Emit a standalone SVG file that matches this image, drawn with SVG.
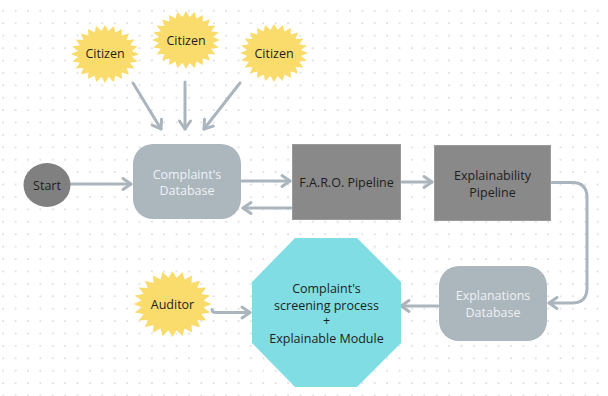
<svg xmlns="http://www.w3.org/2000/svg" width="608" height="396" viewBox="0 0 608 396">
<defs>
<pattern id="dots" x="14.6" y="9.8" width="12.385" height="12.41" patternUnits="userSpaceOnUse">
<circle cx="1" cy="1" r="0.8" fill="#c9cad3"/>
</pattern>
<path id="star" d="M100,0 L79.3,10.4 L96.6,25.9 L73.9,30.6 L86.6,50 L63.5,48.7 L70.7,70.7 L48.7,63.5 L50,86.6 L30.6,73.9 L25.9,96.6 L10.4,79.3 L0,100 L-10.4,79.3 L-25.9,96.6 L-30.6,73.9 L-50,86.6 L-48.7,63.5 L-70.7,70.7 L-63.5,48.7 L-86.6,50 L-73.9,30.6 L-96.6,25.9 L-79.3,10.4 L-100,0 L-79.3,-10.4 L-96.6,-25.9 L-73.9,-30.6 L-86.6,-50 L-63.5,-48.7 L-70.7,-70.7 L-48.7,-63.5 L-50,-86.6 L-30.6,-73.9 L-25.9,-96.6 L-10.4,-79.3 L0,-100 L10.4,-79.3 L25.9,-96.6 L30.6,-73.9 L50,-86.6 L48.7,-63.5 L70.7,-70.7 L63.5,-48.7 L86.6,-50 L73.9,-30.6 L96.6,-25.9 L79.3,-10.4 Z"/>
<marker id="arr" markerUnits="userSpaceOnUse" markerWidth="16" markerHeight="16" viewBox="-12 -8 16 16" refX="0" refY="0" orient="auto" overflow="visible">
<path d="M-8,-5.5 L0,0 L-8,5.5" fill="none" stroke="#abb5bd" stroke-width="3" stroke-linecap="round" stroke-linejoin="round"/>
</marker>
<style>
.t{font-family:"Open Sans","Liberation Sans",sans-serif;font-size:12.5px;text-anchor:middle}
.dk{fill:#1e1e1e}
.lt{fill:#eef2f4}
.star{fill:#f9dc6c}
.conn{fill:none;stroke:#abb5bd;stroke-width:3;stroke-linecap:round;stroke-linejoin:round;marker-end:url(#arr)}
.db{fill:#abb6bd}
.pipe{fill:#898989;stroke:#9a9a9a;stroke-width:1}
</style>
</defs>
<rect width="608" height="396" fill="#ffffff"/>
<rect width="608" height="396" fill="url(#dots)"/>

<g id="connectors">
<path class="conn" d="M133,83 L161,129"/>
<path class="conn" d="M185,82 L185,129"/>
<path class="conn" d="M240,83 L204,129"/>
<path class="conn" d="M71,184 L131,184"/>
<path class="conn" d="M242,181 L290,181"/>
<path class="conn" d="M291,208 L243,208"/>
<path class="conn" d="M402,182 L432,182"/>
<path class="conn" d="M552,182.5 H572 Q587,182.5 587,197.5 V288 Q587,303 572,303 H549"/>
<path class="conn" d="M438,306 L401,306"/>
<path class="conn" d="M212,309.5 Q212,312.5 216,312.5 H250"/>
</g>

<g id="citizen1">
<use href="#star" class="star" transform="translate(105,54) scale(0.34,0.29)"/>
<text class="t dk" x="105" y="57.5">Citizen</text>
</g>
<g id="citizen2">
<use href="#star" class="star" transform="translate(186,40) scale(0.34,0.29)"/>
<text class="t dk" x="186" y="44.5">Citizen</text>
</g>
<g id="citizen3">
<use href="#star" class="star" transform="translate(274,53) scale(0.34,0.29)"/>
<text class="t dk" x="274" y="57.5">Citizen</text>
</g>

<g id="start">
<ellipse cx="47" cy="185" rx="23.5" ry="22" fill="#808080"/>
<text class="t dk" x="47" y="189.5">Start</text>
</g>

<g id="complaints-db">
<rect class="db" x="133" y="144" width="108" height="75" rx="20"/>
<text class="t lt" x="187" y="178.8">Complaint's</text>
<text class="t lt" x="187" y="195">Database</text>
</g>

<g id="faro">
<rect class="pipe" x="292.5" y="144.5" width="108" height="75"/>
<text class="t dk" x="346.5" y="186.8">F.A.R.O. Pipeline</text>
</g>

<g id="explainability">
<rect class="pipe" x="434.5" y="145.5" width="116" height="75"/>
<text class="t dk" x="492.5" y="179.5">Explainability</text>
<text class="t dk" x="492.5" y="196.8">Pipeline</text>
</g>

<g id="explanations-db">
<rect class="db" x="439" y="266" width="108" height="75" rx="20"/>
<text class="t lt" x="493" y="300.2">Explanations</text>
<text class="t lt" x="493" y="316.5">Database</text>
</g>

<g id="screening">
<polygon points="295,238 357,238 401,282 401,343 357,387 295,387 252,343 252,282" fill="#80dde4"/>
<text class="t dk" x="326.5" y="292.8">Complaint's</text>
<text class="t dk" x="326.5" y="309.5">screening process</text>
<text class="t dk" x="326.5" y="325.2">+</text>
<text class="t dk" x="326.5" y="342.8">Explainable Module</text>
</g>

<g id="auditor">
<use href="#star" class="star" transform="translate(172.5,304) scale(0.39,0.33)"/>
<text class="t dk" x="172.5" y="308.5">Auditor</text>
</g>
</svg>
